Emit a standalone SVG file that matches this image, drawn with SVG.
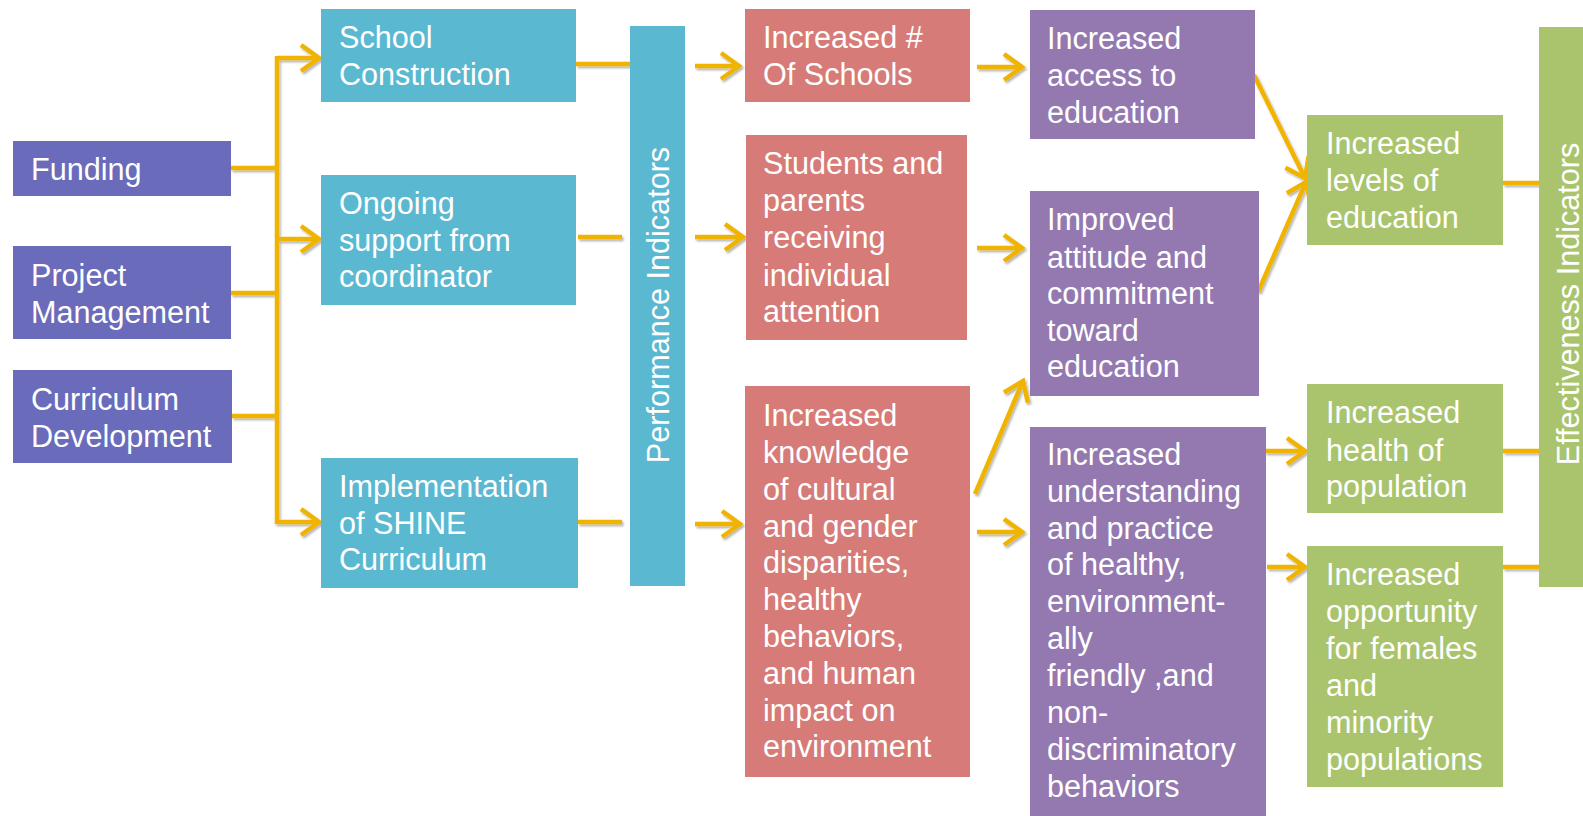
<svg xmlns="http://www.w3.org/2000/svg" width="1583" height="816" viewBox="0 0 1583 816">
  <style>
    text { font-family: "Liberation Sans", Arial, sans-serif; font-size: 30.6px; fill: #ffffff; }
    .c1 { fill: #6A6BBA; }
    .c2 { fill: #5BB8D1; }
    .c3 { fill: #D67B77; }
    .c4 { fill: #9479B0; }
    .c5 { fill: #AAC46D; }
    .ln { fill: none; stroke: #F0B400; stroke-width: 4.5; }
    .ar { marker-end: url(#arrow); }
  </style>
  <defs>
    <marker id="arrow" markerUnits="userSpaceOnUse" markerWidth="24" markerHeight="30" refX="20" refY="15" orient="auto" overflow="visible">
      <path d="M2,2 L20,15 L2,28" fill="none" stroke="#F0B400" stroke-width="4.5"/>
    </marker>
    <filter id="sh" x="-20%" y="-20%" width="140%" height="140%">
      <feDropShadow dx="1.5" dy="2" stdDeviation="1.2" flood-color="#000" flood-opacity="0.3"/>
    </filter>
  </defs>
  <rect width="1583" height="816" fill="#ffffff"/>

  <g id="connectors" filter="url(#sh)">
    <path class="ln" d="M231,168 H277"/>
    <path class="ln" d="M231,293 H277"/>
    <path class="ln" d="M232,416 H277"/>
    <path class="ln" d="M277,56 V524"/>
    <path class="ln ar" d="M277,58 H319"/>
    <path class="ln ar" d="M277,239 H319"/>
    <path class="ln ar" d="M277,522 H319"/>
    <path class="ln" d="M576,64 H630"/>
    <path class="ln" d="M578,237 H622"/>
    <path class="ln" d="M578,522 H622"/>
    <path class="ln ar" d="M695,66 H739"/>
    <path class="ln ar" d="M695,237 H743"/>
    <path class="ln ar" d="M695,524 H740"/>
    <path class="ln ar" d="M977,67 H1022"/>
    <path class="ln ar" d="M977,248 H1022"/>
    <path class="ln ar" d="M977,532 H1022"/>
    <path class="ln ar" d="M975,494 L1023,381"/>
    <path class="ln ar" d="M1254,75 L1305,178"/>
    <path class="ln ar" d="M1258,292 L1306,182"/>
    <path class="ln ar" d="M1265,451 H1305"/>
    <path class="ln ar" d="M1267,567 H1305"/>
    <path class="ln" d="M1503,183 H1539"/>
    <path class="ln" d="M1503,451 H1539"/>
    <path class="ln" d="M1503,567 H1539"/>
  </g>

  <g id="funding">
    <rect class="c1" x="13" y="141" width="218" height="55"/>
    <text x="31" y="180">Funding</text>
  </g>
  <g id="project-management">
    <rect class="c1" x="13" y="246" width="218" height="93"/>
    <text x="31" y="286">Project</text>
    <text x="31" y="323">Management</text>
  </g>
  <g id="curriculum-development">
    <rect class="c1" x="13" y="370" width="219" height="93"/>
    <text x="31" y="410">Curriculum</text>
    <text x="31" y="447">Development</text>
  </g>

  <g id="school-construction">
    <rect class="c2" x="321" y="9" width="255" height="93"/>
    <text x="339" y="48">School</text>
    <text x="339" y="85">Construction</text>
  </g>
  <g id="ongoing-support">
    <rect class="c2" x="321" y="175" width="255" height="130"/>
    <text x="339" y="214">Ongoing</text>
    <text x="339" y="251">support from</text>
    <text x="339" y="287">coordinator</text>
  </g>
  <g id="implementation">
    <rect class="c2" x="321" y="458" width="257" height="130"/>
    <text x="339" y="497">Implementation</text>
    <text x="339" y="534">of SHINE</text>
    <text x="339" y="570">Curriculum</text>
  </g>

  <g id="performance-indicators">
    <rect class="c2" x="630" y="26" width="55" height="560"/>
    <text transform="translate(669,305) rotate(-90)" text-anchor="middle">Performance Indicators</text>
  </g>

  <g id="increased-schools">
    <rect class="c3" x="745" y="9" width="225" height="93"/>
    <text x="763" y="48">Increased #</text>
    <text x="763" y="85">Of Schools</text>
  </g>
  <g id="students-parents">
    <rect class="c3" x="746" y="135" width="221" height="205"/>
    <text x="763" y="174">Students and</text>
    <text x="763" y="211">parents</text>
    <text x="763" y="248">receiving</text>
    <text x="763" y="286">individual</text>
    <text x="763" y="322">attention</text>
  </g>
  <g id="increased-knowledge">
    <rect class="c3" x="745" y="386" width="225" height="391"/>
    <text x="763" y="426">Increased</text>
    <text x="763" y="463">knowledge</text>
    <text x="763" y="500">of cultural</text>
    <text x="763" y="537">and gender</text>
    <text x="763" y="573">disparities,</text>
    <text x="763" y="610">healthy</text>
    <text x="763" y="647">behaviors,</text>
    <text x="763" y="684">and human</text>
    <text x="763" y="721">impact on</text>
    <text x="763" y="757">environment</text>
  </g>

  <g id="increased-access">
    <rect class="c4" x="1030" y="10" width="225" height="129"/>
    <text x="1047" y="49">Increased</text>
    <text x="1047" y="86">access to</text>
    <text x="1047" y="123">education</text>
  </g>
  <g id="improved-attitude">
    <rect class="c4" x="1030" y="191" width="229" height="205"/>
    <text x="1047" y="230">Improved</text>
    <text x="1047" y="268">attitude and</text>
    <text x="1047" y="304">commitment</text>
    <text x="1047" y="341">toward</text>
    <text x="1047" y="377">education</text>
  </g>
  <g id="increased-understanding">
    <rect class="c4" x="1030" y="427" width="236" height="389"/>
    <text x="1047" y="465">Increased</text>
    <text x="1047" y="502">understanding</text>
    <text x="1047" y="539">and practice</text>
    <text x="1047" y="575">of healthy,</text>
    <text x="1047" y="612">environment-</text>
    <text x="1047" y="649">ally</text>
    <text x="1047" y="686">friendly ,and</text>
    <text x="1047" y="723">non-</text>
    <text x="1047" y="760">discriminatory</text>
    <text x="1047" y="797">behaviors</text>
  </g>

  <g id="increased-levels">
    <rect class="c5" x="1307" y="115" width="196" height="130"/>
    <text x="1326" y="154">Increased</text>
    <text x="1326" y="191">levels of</text>
    <text x="1326" y="228">education</text>
  </g>
  <g id="increased-health">
    <rect class="c5" x="1307" y="384" width="196" height="129"/>
    <text x="1326" y="423">Increased</text>
    <text x="1326" y="461">health of</text>
    <text x="1326" y="497">population</text>
  </g>
  <g id="increased-opportunity">
    <rect class="c5" x="1307" y="546" width="196" height="241"/>
    <text x="1326" y="585">Increased</text>
    <text x="1326" y="622">opportunity</text>
    <text x="1326" y="659">for females</text>
    <text x="1326" y="696">and</text>
    <text x="1326" y="733">minority</text>
    <text x="1326" y="770">populations</text>
  </g>

  <g id="effectiveness-indicators">
    <rect class="c5" x="1539" y="27" width="60" height="560"/>
    <text transform="translate(1579,304) rotate(-90)" text-anchor="middle">Effectiveness Indicators</text>
  </g>
</svg>
